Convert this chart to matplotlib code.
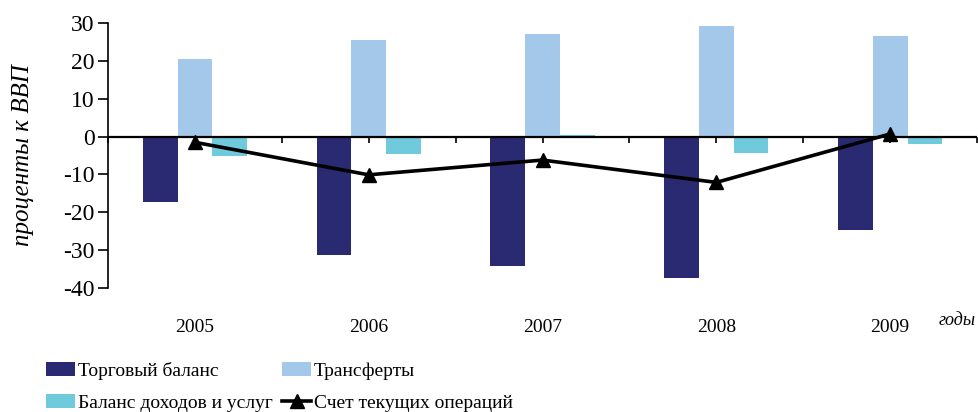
import matplotlib.pyplot as plt
import matplotlib.transforms as mtransforms
import numpy as np

# values, % of GDP
YEARS = ["2005", "2006", "2007", "2008", "2009"]
TRADE = [-17.4, -31.2, -34.2, -37.3, -24.6]
TRANSFERS = [20.4, 25.5, 27.0, 29.2, 26.5]
INCOME = [-5.2, -4.7, 0.4, -4.2, -2.0]
CURRENT = [-1.5, -10.1, -6.2, -12.1, 0.7]

NAVY, LIGHT, CYAN = "#2A2A72", "#A3C8EA", "#6FCBDC"
SERIF = ["Liberation Serif", "DejaVu Serif"]
plt.rcParams["font.family"] = SERIF
plt.rcParams["axes.unicode_minus"] = False

fig = plt.figure(figsize=(9.79, 4.12), dpi=100)
ax = fig.add_axes([0.1103, 0.301, 0.8877, 0.643])

x = np.arange(len(YEARS))
w = 0.2
h_trade = ax.bar(x - w, TRADE, w, color=NAVY, label="Торговый баланс")
h_tr = ax.bar(x, TRANSFERS, w, color=LIGHT, label="Трансферты")
h_inc = ax.bar(x + w, INCOME, w, color=CYAN, label="Баланс доходов и услуг")
(h_cur,) = ax.plot(x, CURRENT, color="black", lw=2.6, marker="^", ms=10,
                   label="Счет текущих операций", zorder=4)

ax.set_xlim(-0.5, len(YEARS) - 0.5)
ax.set_ylim(-40, 30)
ax.set_yticks(range(-40, 31, 10))
ax.tick_params(axis="y", direction="out", length=7.5, width=1.2, labelsize=17, pad=2)
for lab in ax.get_yticklabels():
    lab.set_fontfamily(SERIF)

# x axis sits on zero; ticks at category edges and centres
for s in ("top", "right", "bottom"):
    ax.spines[s].set_visible(False)
ax.spines["left"].set_linewidth(1.2)
ax.axhline(0, color="black", lw=1.6, zorder=3)
edges = np.arange(-0.5, len(YEARS), 0.5)
ax.vlines(edges, -1.8, 0, color="black", lw=1.2, zorder=3, clip_on=False)
ax.set_xticks([])
xfig = mtransforms.blended_transform_factory(ax.transData, fig.transFigure)
for xi, yr in zip(x, YEARS):
    ax.text(xi, 0.206, yr, transform=xfig, ha="center", va="center",
            fontsize=14, clip_on=False)
fig.text(0.997, 0.222, "годы", ha="right", va="center", fontsize=13, style="italic")

ax.set_ylabel("проценты к ВВП", fontsize=18, style="italic")
ax.yaxis.set_label_coords(-0.085, 0.50)

# legend: four entries placed on a 2x2 grid
slots = [(h_trade, 0.047, 0.100), (h_tr, 0.288, 0.100),
         (h_inc, 0.047, 0.022), (h_cur, 0.288, 0.022)]
for h, lx, ly in slots:
    fig.legend([h], [h.get_label()], loc="center left", bbox_to_anchor=(lx, ly),
               frameon=False, fontsize=14, handlelength=1.5, handleheight=0.7,
               handletextpad=0.15, borderpad=0, borderaxespad=0)

fig.savefig("out.png", dpi=100)
